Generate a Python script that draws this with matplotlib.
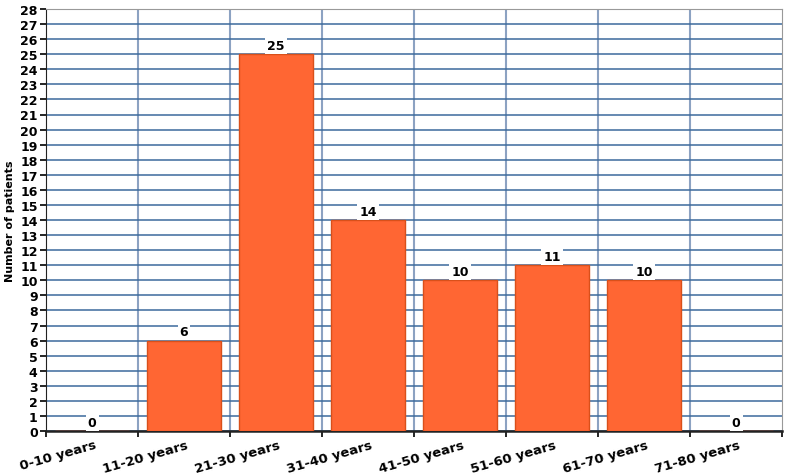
import numpy as np
import matplotlib.pyplot as plt
from matplotlib.transforms import ScaledTranslation

categories = ['0-10 years', '11-20 years', '21-30 years', '31-40 years',
              '41-50 years', '51-60 years', '61-70 years', '71-80 years']
patients = [0, 6, 25, 14, 10, 11, 10, 0]

fig = plt.figure(figsize=(7.86, 4.77), dpi=100)
ax = fig.add_axes([46 / 786, 1 - 432 / 477, 736 / 786, 422 / 477])

x = np.arange(len(categories))
ax.bar(x, patients, width=0.8, color='#FF6633', edgecolor='#D9501A', linewidth=1, zorder=3)

# grid
ax.set_ylim(0, 28)
ax.set_xlim(-0.5, len(categories) - 0.5)
ax.set_yticks(range(0, 29))
ax.yaxis.grid(True, color='#3C6A9C', linewidth=1.1, zorder=0)
for b in np.arange(0.5, len(categories) - 0.5, 1):
    ax.axvline(b, color='#8CA2C2', linewidth=1.5, zorder=0)

ax.set_xticks(np.arange(-0.5, len(categories), 1), minor=False)
ax.set_xticklabels([])
ax.set_xticks(x, minor=True)
ax.set_xticklabels(categories, minor=True, rotation=16, ha='right',
                   rotation_mode='anchor', fontsize=9.5, fontweight='bold')
ax.tick_params(axis='x', which='minor', length=0, pad=5)
ax.tick_params(axis='x', which='major', length=4, width=1.2)
ax.tick_params(axis='y', length=4, width=1.2, labelsize=9, pad=2)
shift = ScaledTranslation(2 / 100, 0, fig.dpi_scale_trans)
for lab in ax.get_xticklabels(minor=True):
    lab.set_transform(lab.get_transform() + shift)
for lab in ax.get_yticklabels():
    lab.set_fontweight('bold')

ax.spines['left'].set_color('#222222')
ax.spines['bottom'].set_color('#222222')
ax.spines['bottom'].set_linewidth(1.8)
ax.spines['top'].set_color('#999999')
ax.spines['right'].set_color('#999999')

for xi, v in zip(x, patients):
    ax.text(xi, v + 0.15, str(v), ha='center', va='bottom', fontsize=9, fontweight='bold',
            bbox=dict(facecolor='white', edgecolor='none', pad=1.5), zorder=4)

ax.set_ylabel('Number of patients', fontsize=8, fontweight='bold', labelpad=4)

fig.savefig('out.png', dpi=100)
